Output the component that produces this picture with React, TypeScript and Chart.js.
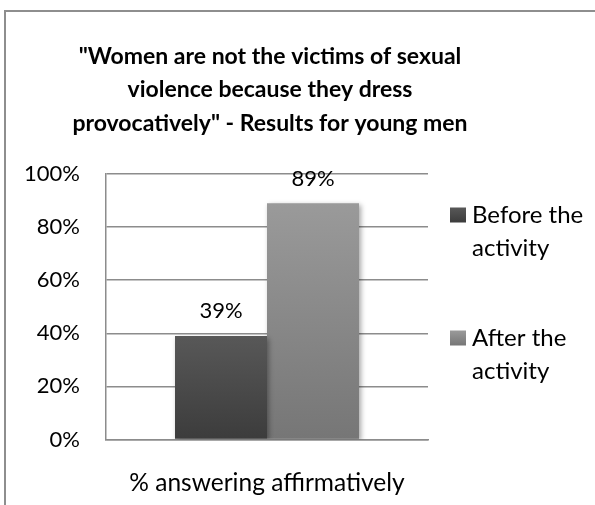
import React, { useEffect, useRef } from 'react';
import { Chart, registerables } from 'chart.js';

Chart.register(...registerables);

const categories = ['% answering affirmatively'];
const seriesNames = ['Before the activity', 'After the activity'];
const legendLines = [['Before the', 'activity'], ['After the', 'activity']];
const beforeValues = [39];
const afterValues = [89];
const titleLines = [
  '"Women are not the victims of sexual',
  'violence because they dress',
  'provocatively" - Results for young men',
];
const yMin = 0;
const yMax = 100;
const yStep = 20;

const FONT = 'Lato, Calibri, "Open Sans", sans-serif';
const GRID = '#8c8c8c';
const colorsTop = ['#585858', '#9a9a9a'];
const colorsBottom = ['#3c3c3c', '#767676'];

function barGradient(c: any, i: number) {
  const chart = c.chart;
  const ys = chart.scales && chart.scales.y;
  if (!ys || !chart.chartArea) return colorsTop[i];
  const v = c.raw ?? 0;
  const top = ys.getPixelForValue(v);
  const bottom = ys.getPixelForValue(0);
  const g = chart.ctx.createLinearGradient(0, top, 0, bottom);
  g.addColorStop(0, colorsTop[i]);
  g.addColorStop(1, colorsBottom[i]);
  return g;
}

const framePlugin = {
  id: 'frame',
  beforeDraw(chart: any) {
    const ctx = chart.ctx;
    ctx.save();
    ctx.fillStyle = '#ffffff';
    ctx.fillRect(0, 0, chart.width, chart.height);
    ctx.strokeStyle = '#8e8e8e';
    ctx.lineWidth = 2;
    ctx.strokeRect(5, 11, 1000, 1000);
    ctx.restore();
  },
};

const shadowPlugin = {
  id: 'barShadow',
  beforeDatasetsDraw(chart: any) {
    const ctx = chart.ctx;
    ctx.save();
    ctx.shadowColor = 'rgba(0,0,0,0.35)';
    ctx.shadowBlur = 5;
    ctx.shadowOffsetX = 2;
    ctx.shadowOffsetY = 2;
  },
  afterDatasetsDraw(chart: any) {
    chart.ctx.restore();
  },
};

const labelPlugin = {
  id: 'valueLabels',
  afterDatasetsDraw(chart: any) {
    const ctx = chart.ctx;
    ctx.save();
    ctx.font = '22px ' + FONT;
    ctx.fillStyle = '#000';
    ctx.textAlign = 'center';
    ctx.textBaseline = 'alphabetic';
    chart.data.datasets.forEach((ds: any, di: number) => {
      const meta = chart.getDatasetMeta(di);
      meta.data.forEach((el: any, i: number) => {
        ctx.fillText(ds.data[i] + '%', el.x, el.y - 17.5);
      });
    });
    ctx.restore();
  },
};

const titlePlugin = {
  id: 'customTitle',
  afterDraw(chart: any) {
    const ctx = chart.ctx;
    ctx.save();
    ctx.font = 'bold 23px ' + FONT;
    ctx.fillStyle = '#000';
    ctx.textAlign = 'center';
    ctx.textBaseline = 'alphabetic';
    const base = [63.5, 97, 130.5];
    titleLines.forEach((t, i) => ctx.fillText(t, 270, base[i]));
    ctx.restore();
  },
};

const legendPlugin = {
  id: 'customLegend',
  afterDraw(chart: any) {
    const ctx = chart.ctx;
    ctx.save();
    ctx.font = '24px ' + FONT;
    ctx.fillStyle = '#000';
    ctx.textAlign = 'left';
    ctx.textBaseline = 'alphabetic';
    const firstBase = [222.5, 345.5];
    legendLines.forEach((lines, i) => {
      const b = firstBase[i];
      const g = ctx.createLinearGradient(0, b - 15, 0, b);
      g.addColorStop(0, colorsTop[i]);
      g.addColorStop(1, colorsBottom[i]);
      ctx.fillStyle = g;
      ctx.fillRect(450, b - 15, 16, 15);
      ctx.fillStyle = '#000';
      lines.forEach((l, j) => ctx.fillText(l, 472, b + j * 33));
    });
    ctx.restore();
  },
};

export default function App() {
  const ref = useRef<HTMLCanvasElement | null>(null);
  useEffect(() => {
    if (!ref.current) return;
    const chart = new Chart(ref.current, {
      type: 'bar',
      data: {
        labels: categories,
        datasets: [
          {
            label: seriesNames[0],
            data: beforeValues,
            backgroundColor: (c: any) => barGradient(c, 0),
            categoryPercentage: 0.5714,
            barPercentage: 1,
          },
          {
            label: seriesNames[1],
            data: afterValues,
            backgroundColor: (c: any) => barGradient(c, 1),
            categoryPercentage: 0.5714,
            barPercentage: 1,
          },
        ],
      },
      options: {
        responsive: false,
        animation: false,
        devicePixelRatio: 1,
        layout: { padding: { left: 0, right: 167, top: 174, bottom: 0 } },
        plugins: {
          legend: { display: false },
          title: { display: false },
          tooltip: { enabled: false },
        },
        scales: {
          x: {
            grid: { display: false, drawTicks: false },
            border: { display: true, color: GRID, width: 1.5 },
            ticks: { color: '#000', font: { family: FONT, size: 24.5 }, padding: 29 },
            afterFit(s: any) {
              s.height = 65.5;
            },
          },
          y: {
            min: yMin,
            max: yMax,
            ticks: {
              stepSize: yStep,
              color: '#000',
              font: { family: FONT, size: 22 },
              padding: 26,
              callback: (v: any) => v + '%',
            },
            grid: { color: GRID, lineWidth: 1.5, drawTicks: false },
            border: { display: true, color: GRID, width: 1.5 },
            afterFit(s: any) {
              s.width = 106;
            },
          },
        },
      },
      plugins: [framePlugin, shadowPlugin, labelPlugin, titlePlugin, legendPlugin],
    });
    return () => chart.destroy();
  }, []);
  return (
    <div style={{ position: 'absolute', left: 0, top: 0, width: 595, height: 505 }}>
      <canvas ref={ref} width={595} height={505} />
    </div>
  );
}
